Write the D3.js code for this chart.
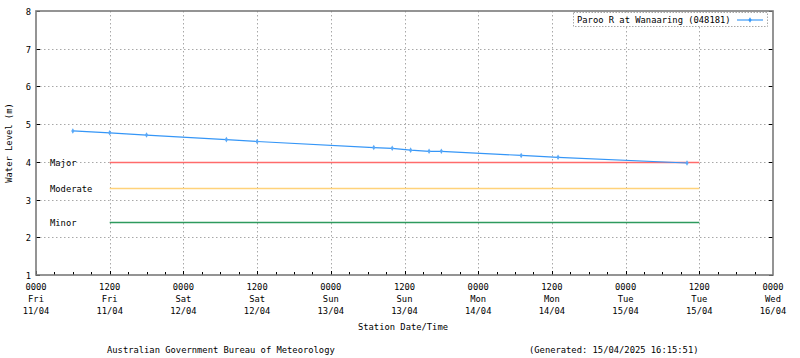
<!DOCTYPE html>
<html><head><meta charset="utf-8">
<script src="https://cdn.jsdelivr.net/npm/d3@7"></script>
<style>body{margin:0;background:#fff}svg text{font-family:"DejaVu Sans Mono","Liberation Mono",monospace;font-size:8.8px;fill:#000}</style>
</head><body><svg id="c" width="800" height="358"></svg>
<script>
const seriesName = "Paroo R at Wanaaring (048181)";
const times = ["2025-04-11T06:00","2025-04-11T12:00","2025-04-11T18:00","2025-04-12T07:00","2025-04-12T12:00",
  "2025-04-13T07:00","2025-04-13T10:00","2025-04-13T13:00","2025-04-13T16:00","2025-04-13T18:00",
  "2025-04-14T07:00","2025-04-14T13:00","2025-04-15T10:00"];
const levels = [4.82,4.77,4.71,4.59,4.54,4.38,4.36,4.31,4.28,4.28,4.17,4.12,3.97];
const thresholdNames = ["Major","Moderate","Minor"];
const thresholdValues = [4.0,3.3,2.4];
const thresholdColors = ["#ff6b6b","#ffd27a","#2e9a5e"];
const thresholdRange = ["2025-04-11T12:00","2025-04-15T12:00"];
const tickTimes = ["2025-04-11T00:00","2025-04-11T12:00","2025-04-12T00:00","2025-04-12T12:00","2025-04-13T00:00","2025-04-13T12:00",
  "2025-04-14T00:00","2025-04-14T12:00","2025-04-15T00:00","2025-04-15T12:00","2025-04-16T00:00"];
const tickHours = ["0000","1200","0000","1200","0000","1200","0000","1200","0000","1200","0000"];
const tickDays = ["Fri","Fri","Sat","Sat","Sun","Sun","Mon","Mon","Tue","Tue","Wed"];
const tickDates = ["11/04","11/04","12/04","12/04","13/04","13/04","14/04","14/04","15/04","15/04","16/04"];
const yTicks = [1,2,3,4,5,6,7,8];

const parse = d3.utcParse("%Y-%m-%dT%H:%M");
const svg = d3.select("#c");
const L=36,R=773,T=11,B=275;
const x = d3.scaleUtc().domain([parse(tickTimes[0]), parse(tickTimes[tickTimes.length-1])]).range([L,R]);
const y = d3.scaleLinear().domain([1,8]).range([B,T]);

// grid
const g = svg.append("g").attr("stroke","#a8a8a8").attr("stroke-dasharray","1.5,2.5").attr("stroke-width",1);
yTicks.slice(1,-1).forEach(v=>g.append("line").attr("x1",L).attr("x2",R).attr("y1",Math.round(y(v))+0.5).attr("y2",Math.round(y(v))+0.5));
tickTimes.slice(1,-1).forEach(t=>g.append("line").attr("y1",T).attr("y2",B).attr("x1",Math.round(x(parse(t)))+0.5).attr("x2",Math.round(x(parse(t)))+0.5));

// minor/major x ticks
const minor = d3.utcHour.every(3).range(parse(tickTimes[0]), parse(tickTimes[tickTimes.length-1]));
minor.forEach(d=>{
  const xx=Math.round(x(d))+0.5;
  const major = d.getUTCHours()%12===0;
  svg.append("line").attr("x1",xx).attr("x2",xx).attr("y1",B).attr("y2",B-(major?4:3)).attr("stroke","#000");
});
yTicks.forEach(v=>{
  const yy=Math.round(y(v))+0.5;
  svg.append("line").attr("x1",L).attr("x2",L+4).attr("y1",yy).attr("y2",yy).attr("stroke","#000");
  svg.append("line").attr("x1",R-4).attr("x2",R).attr("y1",yy).attr("y2",yy).attr("stroke","#000");
  svg.append("text").attr("x",31).attr("y",yy+3).attr("text-anchor","end").text(v);
});

// thresholds
thresholdValues.forEach((v,i)=>{
  const yy=Math.round(y(v))+0.5;
  svg.append("line").attr("x1",x(parse(thresholdRange[0]))).attr("x2",x(parse(thresholdRange[1])))
    .attr("y1",yy).attr("y2",yy).attr("stroke",thresholdColors[i]).attr("stroke-width",1.6);
  svg.append("text").attr("x",50).attr("y",yy+3).text(thresholdNames[i]);
});

// series
const pts = times.map((t,i)=>[parse(t),levels[i]]);
const line = d3.line().x(d=>x(d[0])).y(d=>y(d[1]));
svg.append("path").datum(pts).attr("d",line).attr("fill","none").attr("stroke","#3596f7").attr("stroke-width",1.2);
svg.selectAll(".m").data(pts).join("path").attr("class","m")
  .attr("transform",d=>`translate(${x(d[0])},${y(d[1])})`)
  .attr("d",d3.symbol(d3.symbolDiamond,9)).attr("fill","#5aa9f8");

// frame
svg.append("rect").attr("x",L).attr("y",T).attr("width",R-L).attr("height",B-T).attr("fill","none").attr("stroke","#7a7a7a").attr("stroke-width",1.6);

// x tick labels
tickTimes.forEach((t,i)=>{
  const xx=x(parse(t));
  const tx=svg.append("text").attr("text-anchor","middle");
  tx.append("tspan").attr("x",xx).attr("y",290).text(tickHours[i]);
  tx.append("tspan").attr("x",xx).attr("y",302).text(tickDays[i]);
  tx.append("tspan").attr("x",xx).attr("y",314).text(tickDates[i]);
});
svg.append("text").attr("x",403).attr("y",330).attr("text-anchor","middle").text("Station Date/Time");
svg.append("text").attr("x",9).attr("y",143).attr("text-anchor","middle").attr("dominant-baseline","middle")
  .attr("transform","rotate(-90,9,143)").text("Water Level (m)");

// legend
svg.append("rect").attr("x",573.5).attr("y",12.5).attr("width",194).attr("height",14).attr("fill","#fff")
  .attr("stroke","#a8a8a8").attr("stroke-dasharray","1.5,1.5");
svg.append("text").attr("x",577).attr("y",23).text(seriesName);
svg.append("line").attr("x1",737).attr("x2",763).attr("y1",20).attr("y2",20).attr("stroke","#5aa9f8").attr("stroke-width",1.4);
svg.append("path").attr("transform","translate(750,20)").attr("d",d3.symbol(d3.symbolDiamond,9)).attr("fill","#3596f7");

// footer
svg.append("text").attr("x",107).attr("y",353).text("Australian Government Bureau of Meteorology");
svg.append("text").attr("x",529).attr("y",353).text("(Generated: 15/04/2025 16:15:51)");
</script></body></html>
